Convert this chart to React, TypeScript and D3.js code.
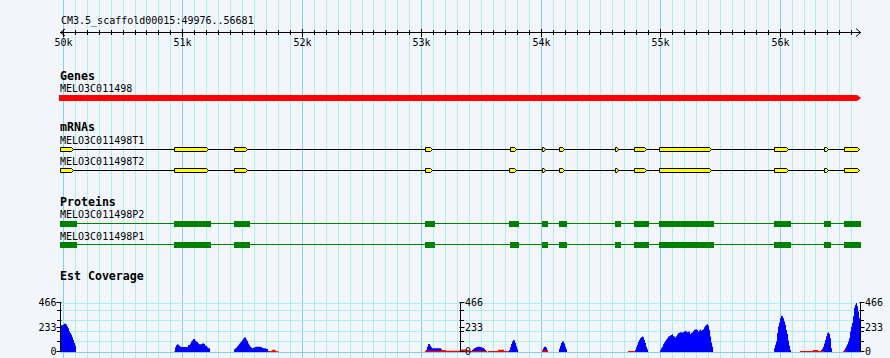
import React from "react";
import * as d3 from "d3";

// ---------- data ----------
const regionLabel = "CM3.5_scaffold00015:49976..56681";
const regionSpan: [number, number] = [49976, 56681];
const majorTickLabels = ["50k", "51k", "52k", "53k", "54k", "55k", "56k"];
const majorTickValues = [50000, 51000, 52000, 53000, 54000, 55000, 56000];

const geneName = "MELO3C011498";
const geneSpan: [number, number] = [49976, 56681];

const mrnaNames = ["MELO3C011498T1", "MELO3C011498T2"];
const t1Exons: [number, number][] = [
  [49976, 50093], [50930, 51223], [51433, 51550], [53031, 53096], [53743, 53799],
  [54011, 54045], [54153, 54203], [54622, 54656], [54781, 54890], [54991, 55431],
  [55953, 56076], [56371, 56413], [56539, 56673],
];
const t2Exons: [number, number][] = [
  [49976, 50093], [50930, 51223], [51433, 51550], [53031, 53096], [53735, 53799],
  [54011, 54045], [54153, 54203], [54622, 54656], [54781, 54890], [54991, 55431],
  [55953, 56076], [56371, 56413], [56539, 56673],
];

const proteinNames = ["MELO3C011498P2", "MELO3C011498P1"];
const p2Cds: [number, number][] = [
  [49976, 50118], [50930, 51240], [51433, 51566], [53031, 53115], [53735, 53818],
  [54011, 54061], [54153, 54220], [54622, 54672], [54781, 54906], [54991, 55451],
  [55953, 56095], [56371, 56430], [56539, 56681],
];
const p1Cds: [number, number][] = [
  [49976, 50118], [50930, 51240], [51433, 51566], [53031, 53115], [53743, 53818],
  [54011, 54061], [54153, 54220], [54622, 54672], [54781, 54906], [54991, 55451],
  [55953, 56095], [56371, 56430], [56539, 56681],
];

const covMax = 466;
const covAxisLabels = [0, 233, 466];
const covMinorTicks = [100, 200, 300, 400];
const covBin = 8.37; // bp per coverage bin

const estBlue: { start: number; values: number[] }[] = [
  { start: 49976, values: [255, 255, 255, 258, 268, 268, 262, 242, 225, 194, 180, 163, 140, 115, 86, 60] },
  { start: 50939, values: [45, 65, 73, 68, 60, 52, 48, 48, 48, 48, 48, 48, 48, 67, 67, 80, 99, 110, 124, 124, 110, 99, 95, 80, 73, 73, 73, 81, 81, 75, 60, 60, 45, 35, 35] },
  { start: 51433, values: [25, 35, 40, 55, 64, 78, 90, 99, 115, 128, 137, 137, 120, 105, 80, 64, 50, 43, 35, 40, 43, 48, 51, 51, 51, 51, 51, 45, 40, 35, 35, 35, 29, 29] },
  { start: 53040, values: [20, 50, 77, 77, 60, 45, 35, 35, 35, 35, 35, 35, 35, 35, 35, 25] },
  { start: 53425, values: [20, 28, 35, 40, 45, 48, 51, 51, 48, 44, 40, 35, 30, 20] },
  { start: 53735, values: [20, 45, 75, 100, 115, 110, 85, 55, 25] },
  { start: 54019, values: [35, 51, 51, 40] },
  { start: 54153, values: [30, 60, 85, 99, 99, 80, 50, 25] },
  { start: 54789, values: [20, 45, 70, 95, 115, 130, 140, 147, 140, 115, 85, 50, 25] },
  { start: 54999, values: [19, 35, 51, 73, 90, 105, 118, 131, 147, 150, 156, 162, 169, 150, 147, 137, 150, 166, 179, 183, 188, 188, 186, 188, 195, 201, 195, 188, 192, 195, 169, 180, 188, 200, 211, 214, 214, 210, 195, 205, 214, 201, 210, 217, 235, 249, 260, 265, 249, 210, 147, 90, 51] },
  { start: 55953, values: [35, 70, 99, 180, 242, 280, 320, 344, 340, 322, 290, 258, 210, 170, 110, 60, 19] },
  { start: 56338, values: [10, 20, 30, 51, 80, 115, 150, 179, 185, 170, 131, 35] },
  { start: 56539, values: [20, 35, 55, 73, 100, 130, 194, 240, 275, 340, 420, 450, 466, 434, 386, 320, 250] },
];

const estRed: { start: number; values: number[] }[] = [
  { start: 50931, values: [8] },
  { start: 51717, values: [10, 10, 10, 10, 18, 22, 22, 15, 8, 8, 5] },
  { start: 53031, values: [12, 12, 12, 12, 12, 12, 12, 12, 12, 12, 12, 12, 12, 12, 12, 12, 20, 20, 20, 20, 20, 12, 12, 12, 12, 12, 12, 12, 12, 12, 12, 12, 12, 12, 12, 24, 24, 24, 24, 24, 24, 24] },
  { start: 53383, values: [10, 10, 10, 10, 10, 10, 10, 10, 10, 10, 10, 10, 10, 10, 10, 10, 10, 10, 10, 10] },
  { start: 53559, values: [10, 10, 10, 10, 10, 10, 10, 10, 10, 10, 22, 22, 22, 22, 22, 22, 10, 10, 10, 10, 10] },
  { start: 54011, values: [20, 15, 15, 15, 15, 20] },
  { start: 54731, values: [10, 10, 10, 10, 10, 10, 10] },
  { start: 56170, values: [10, 10, 10, 10, 10, 10, 10, 10, 10, 10, 10, 10, 10, 19, 19, 19, 19, 19, 10, 10, 10, 10, 10, 10] },
  { start: 56531, values: [10, 10, 10] },
];

// ---------- style ----------
const BG = "rgb(242,245,250)";
const GRID_MINOR = "#afeeee";
const GRID_MAJOR = "#87ceeb";
const MONO = "'DejaVu Sans Mono', monospace";

export default function App() {
  const W = 890, H = 358;
  const x = d3.scaleLinear().domain(regionSpan).range([60, 861]);
  const yCov = d3.scaleLinear().domain([0, covMax]).range([352, 303]);
  const px = (v: number) => Math.round(v) + 0.5;

  const minorGrid = d3.range(50000, regionSpan[1], 100);
  const majorSet = new Set(majorTickValues);

  const covArea = d3
    .area<[number, number]>()
    .x((d) => x(d[0]))
    .y0(yCov(0))
    .y1((d) => yCov(d[1]))
    .curve(d3.curveStepAfter);

  const segPts = (s: { start: number; values: number[] }) => {
    const pts: [number, number][] = s.values.map((v, i) => [s.start + i * covBin, v]);
    pts.push([s.start + s.values.length * covBin, s.values[s.values.length - 1]]);
    return pts;
  };

  const exonPath = (s: number, e: number, y0: number, y1: number) => {
    const x0 = Math.round(x(s)) + 0.5;
    const x1 = Math.round(x(e)) - 0.5;
    const tip = Math.min(2, (x1 - x0) / 2);
    const ym = (y0 + y1) / 2;
    return `M${x0},${y0}H${x1 - tip}L${x1},${ym}L${x1 - tip},${y1}H${x0}Z`;
  };

  const mrnaRows = [
    { name: mrnaNames[0], exons: t1Exons, labelY: 143.5, lineY: 149.5 },
    { name: mrnaNames[1], exons: t2Exons, labelY: 165, lineY: 170.5 },
  ];
  const protRows = [
    { name: proteinNames[0], cds: p2Cds, labelY: 218, lineY: 223.5 },
    { name: proteinNames[1], cds: p1Cds, labelY: 239.5, lineY: 244.5 },
  ];

  const covAxes = [
    { ax: 60.5, side: "left" },
    { ax: 460.5, side: "right" },
    { ax: 860.5, side: "right" },
  ];

  const gx0 = x(geneSpan[0]) - 1;
  const gx1 = x(geneSpan[1]);

  return (
    <svg
      width={W}
      height={H}
      style={{ position: "absolute", left: 0, top: 0, display: "block" }}
      fontFamily={MONO}
    >
      <rect x={0} y={0} width={W} height={H} fill={BG} />
      {/* vertical grid */}
      {minorGrid.map((b) => (
        <line
          key={"g" + b}
          x1={px(x(b))}
          x2={px(x(b))}
          y1={0}
          y2={H}
          stroke={majorSet.has(b) ? GRID_MAJOR : GRID_MINOR}
          strokeWidth={1}
        />
      ))}
      {/* coverage horizontal grid */}
      {[0, ...covMinorTicks, covMax].map((v) => (
        <line
          key={"h" + v}
          x1={60}
          x2={861}
          y1={px(yCov(v))}
          y2={px(yCov(v))}
          stroke={v === 0 ? GRID_MAJOR : GRID_MINOR}
          strokeWidth={1}
        />
      ))}

      {/* ruler */}
      <text x={61} y={24} fontSize={10} fill="#000">{regionLabel}</text>
      <line x1={60} x2={861} y1={32.5} y2={32.5} stroke="#000" />
      <path d="M65,29 L60.5,32.5 L65,36" fill="none" stroke="#000" />
      <path d="M856,28.5 L860.5,32.5 L856,36.5" fill="none" stroke="#000" />
      {minorGrid.map((b) =>
        majorSet.has(b) ? null : (
          <line key={"t" + b} x1={px(x(b))} x2={px(x(b))} y1={30} y2={35} stroke="#000" />
        )
      )}
      {majorTickValues.map((b, i) => (
        <g key={"M" + b}>
          <line x1={px(x(b))} x2={px(x(b))} y1={29} y2={37} stroke="#000" />
          <text x={px(x(b))} y={46} fontSize={10} textAnchor="middle" fill="#000">
            {majorTickLabels[i]}
          </text>
        </g>
      ))}

      {/* Genes */}
      <text x={60} y={80} fontSize={11.6} fontWeight="bold" fill="#000">Genes</text>
      <text x={60} y={92} fontSize={10} fill="#000">{geneName}</text>
      <path
        d={`M${gx0},95H${gx1 - 4}L${gx1},98L${gx1 - 4},101H${gx0}Z`}
        fill="#ff0000"
      />

      {/* mRNAs */}
      <text x={60} y={131} fontSize={11.6} fontWeight="bold" fill="#000">mRNAs</text>
      {mrnaRows.map((r) => (
        <g key={r.name}>
          <text x={60} y={r.labelY} fontSize={10} fill="#000">{r.name}</text>
          <line
            x1={x(r.exons[0][0])}
            x2={x(r.exons[r.exons.length - 1][1])}
            y1={r.lineY}
            y2={r.lineY}
            stroke="#000"
          />
          {r.exons.map(([s, e]) => (
            <path
              key={s}
              d={exonPath(s, e, r.lineY - 2, r.lineY + 2)}
              fill="#ffff00"
              stroke="#000"
              strokeWidth={1}
            />
          ))}
        </g>
      ))}

      {/* Proteins */}
      <text x={60} y={205.5} fontSize={11.6} fontWeight="bold" fill="#000">Proteins</text>
      {protRows.map((r) => (
        <g key={r.name}>
          <text x={60} y={r.labelY} fontSize={10} fill="#000">{r.name}</text>
          <line
            x1={x(r.cds[0][0])}
            x2={x(r.cds[r.cds.length - 1][1])}
            y1={r.lineY}
            y2={r.lineY}
            stroke="#008000"
          />
          {r.cds.map(([s, e]) => (
            <rect
              key={s}
              x={Math.round(x(s))}
              y={r.lineY - 2.5}
              width={Math.round(x(e)) - Math.round(x(s))}
              height={6}
              fill="#008000"
            />
          ))}
        </g>
      ))}

      {/* Est Coverage */}
      <text x={60} y={280} fontSize={11.6} fontWeight="bold" fill="#000">Est Coverage</text>
      {estBlue.map((s) => (
        <path key={"b" + s.start} d={covArea(segPts(s)) || ""} fill="#0000ff" />
      ))}
      {estRed.map((s) => (
        <path key={"r" + s.start} d={covArea(segPts(s)) || ""} fill="#ff0000" />
      ))}
      {covAxes.map((a) => (
        <g key={"ax" + a.ax}>
          <line x1={a.ax} x2={a.ax} y1={yCov(covMax)} y2={yCov(0)} stroke="#000" />
          {covMinorTicks.map((v) => (
            <line
              key={v}
              x1={a.side === "left" ? a.ax - 3.5 : a.ax - 1}
              x2={a.side === "left" ? a.ax + 1 : a.ax + 3.5}
              y1={px(yCov(v))}
              y2={px(yCov(v))}
              stroke="#000"
            />
          ))}
          {covAxisLabels.map((v) => (
            <g key={"l" + v}>
              <line
                x1={a.side === "left" ? a.ax - 4 : a.ax - 1}
                x2={a.side === "left" ? a.ax + 1 : a.ax + 4}
                y1={Math.round(yCov(v)) - 0.5}
                y2={Math.round(yCov(v)) - 0.5}
                stroke="#000"
              />
              <text
                x={a.side === "left" ? a.ax - 4 : a.ax + 4.5}
                y={Math.round(yCov(v)) + 3}
                fontSize={10}
                textAnchor={a.side === "left" ? "end" : "start"}
                fill="#000"
              >
                {v}
              </text>
            </g>
          ))}
        </g>
      ))}
    </svg>
  );
}
